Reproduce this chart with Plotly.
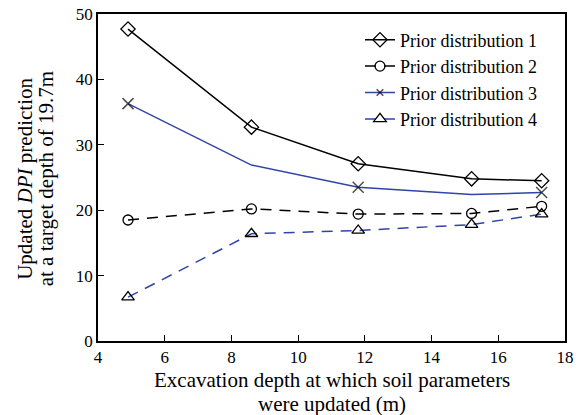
import plotly.graph_objects as go

depth = [4.9, 8.6, 11.8, 15.2, 17.3]
prior1 = [47.7, 32.7, 27.1, 24.8, 24.5]
prior2 = [18.5, 20.2, 19.4, 19.5, 20.6]
prior3 = [36.3, 26.9, 23.5, 22.4, 22.7]
prior4 = [6.7, 16.4, 16.9, 17.8, 19.4]
names = ["Prior distribution 1", "Prior distribution 2", "Prior distribution 3", "Prior distribution 4"]
x_title = ["Excavation depth at which soil parameters", "were updated (m)"]
y_title = ["Updated <i>DPI</i> prediction", "at a target depth of 19.7m"]

BLUE = "#2f45a8"
FONT = "Liberation Serif"

fig = go.Figure()
fig.add_trace(go.Scatter(x=depth, y=prior1, name=names[0], mode="lines+markers",
                         line=dict(color="black", width=1.5),
                         marker=dict(symbol="diamond-open", size=11, color="black", line=dict(width=1.3))))
fig.add_trace(go.Scatter(x=depth, y=prior2, name=names[1], mode="lines+markers",
                         line=dict(color="black", width=1.5, dash="11px,8px"),
                         marker=dict(symbol="circle-open", size=10, color="black", line=dict(width=1.3))))
fig.add_trace(go.Scatter(x=depth, y=prior3, name=names[2], mode="lines+markers",
                         line=dict(color=BLUE, width=1.5),
                         marker=dict(symbol="x-thin-open", size=[11, 0, 11, 0, 11], color="black", line=dict(width=1.5, color="black"))))
fig.add_trace(go.Scatter(x=depth, y=prior4, name=names[3], mode="lines+markers",
                         line=dict(color=BLUE, width=1.5, dash="11px,8px"),
                         marker=dict(symbol="triangle-up-open", size=11, color="black", line=dict(width=1.3))))

axis_common = dict(showline=True, linecolor="black", linewidth=1.5, mirror=True,
                   ticks="inside", ticklen=6, tickwidth=1.2, tickcolor="black",
                   showgrid=False, zeroline=False, automargin=False,
                   tickfont=dict(family=FONT, size=17, color="black"))

fig.update_xaxes(range=[4, 18], dtick=2, tick0=4, **axis_common)
fig.update_yaxes(range=[0, 50], dtick=10, **axis_common)

title_font = dict(family=FONT, size=21, color="black")
for txt, yy in zip(x_title, [-0.118, -0.192]):
    fig.add_annotation(text=txt, xref="paper", yref="paper", x=0.5, y=yy,
                       xanchor="center", yanchor="middle", showarrow=False, font=title_font)
for txt, xx in zip(y_title, [-0.157, -0.111]):
    fig.add_annotation(text=txt, xref="paper", yref="paper", x=xx, y=0.495, textangle=-90,
                       xanchor="center", yanchor="middle", showarrow=False, font=title_font)

fig.update_layout(
    width=581, height=415,
    margin=dict(l=98, r=16, t=14, b=74),
    paper_bgcolor="white", plot_bgcolor="white",
    font=dict(family=FONT, color="black"),
    legend=dict(x=0.561, y=0.977, xanchor="left", yanchor="top",
                bgcolor="rgba(0,0,0,0)", font=dict(family=FONT, size=18, color="black"),
                tracegroupgap=0),
    showlegend=True,
)

fig.write_html("out.html", config={"displayModeBar": False},
               post_script="document.body.style.margin='0';")
